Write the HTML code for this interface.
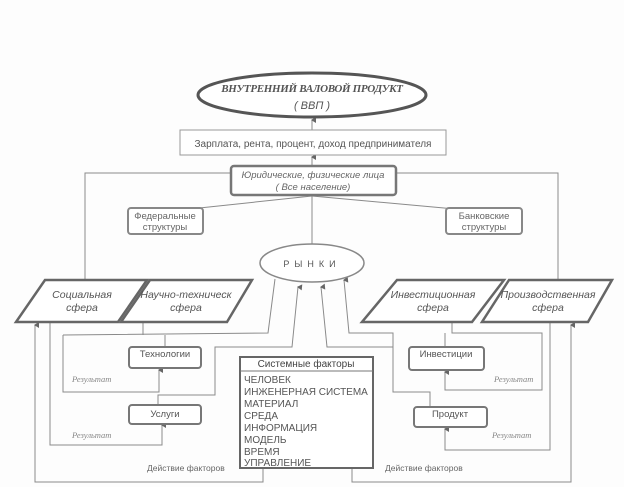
<!DOCTYPE html>
<html><head><meta charset="utf-8"><style>
html,body{margin:0;padding:0;background:#fff;}
svg{display:block;font-family:"Liberation Sans",sans-serif;}
</style></head><body>
<svg width="624" height="487" viewBox="0 0 624 487" xmlns="http://www.w3.org/2000/svg">
<defs>
<marker id="a" markerWidth="6" markerHeight="6" refX="3" refY="1" orient="auto" markerUnits="userSpaceOnUse">
<path d="M0,5 L3,0 L6,5 Z" fill="#666"/></marker>
</defs>
<rect width="624" height="487" fill="#fdfdfd"/>
<g fill="none" stroke="#8a8a8a" stroke-width="1">
<line x1="312" y1="130" x2="312" y2="120" marker-end="url(#a)"/>
<line x1="312" y1="166" x2="312" y2="157" marker-end="url(#a)"/>
<polyline points="231,173 85,173 85,280"/>
<polyline points="396,173 558,173 558,280"/>
<line x1="312" y1="196" x2="190" y2="209"/>
<line x1="312" y1="196" x2="455" y2="209"/>
<line x1="312" y1="196" x2="312" y2="245"/>
<polyline points="143,323 143,335"/>
<polyline points="63,335 268,333 275,279"/>
<polyline points="165,335 165,346"/>
<polyline points="63,335 63,392 159,392 159,370" marker-end="url(#a)"/>
<polyline points="50,323 50,445 162,445 162,425" marker-end="url(#a)"/>
<polyline points="158,405 158,395 215,395 215,347 292,347 298,287" marker-end="url(#a)"/>
<polyline points="263,468 263,482 35,482 35,325" marker-end="url(#a)"/>
<polyline points="393,347 327,347 321,287" marker-end="url(#a)"/>
<polyline points="430,407 430,392 393,392 393,333 349,333 344,280" marker-end="url(#a)"/>
<polyline points="452,322 452,333 542,333 542,390 445,390 445,372" marker-end="url(#a)"/>
<line x1="445" y1="333" x2="445" y2="347"/>
<polyline points="550,322 550,450 445,450 445,429" marker-end="url(#a)"/>
<polyline points="352,468 352,482 571,482 571,325" marker-end="url(#a)"/>
</g>
<ellipse cx="312" cy="95" rx="114" ry="22" fill="#fff" stroke="#555" stroke-width="3"/>
<text x="312" y="92" text-anchor="middle" font-family="Liberation Serif,serif" font-style="italic" font-weight="bold" font-size="11" letter-spacing="-0.3" fill="#555">ВНУТРЕННИЙ ВАЛОВОЙ ПРОДУКТ</text>
<text x="312" y="109" text-anchor="middle" font-style="italic" font-size="11" fill="#555">( ВВП )</text>
<rect x="180" y="130" width="266" height="25" fill="#fff" stroke="#999"/>
<text x="313" y="147" text-anchor="middle" font-size="10" fill="#555">Зарплата, рента, процент, доход предпринимателя</text>
<rect x="231" y="166" width="165" height="29" rx="3" fill="#fff" stroke="#777" stroke-width="2.5"/>
<text x="313" y="178" text-anchor="middle" font-style="italic" font-size="9.5" fill="#666">Юридические, физические лица</text>
<text x="313" y="190" text-anchor="middle" font-style="italic" font-size="9.5" fill="#666">( Все население)</text>
<rect x="128" y="208" width="75" height="26" rx="3" fill="#fff" stroke="#888" stroke-width="2"/>
<text x="165" y="219" text-anchor="middle" font-size="9.5" fill="#666">Федеральные</text>
<text x="165" y="230" text-anchor="middle" font-size="9.5" fill="#666">структуры</text>
<rect x="446" y="208" width="76" height="26" rx="3" fill="#fff" stroke="#888" stroke-width="2"/>
<text x="484" y="219" text-anchor="middle" font-size="9.5" fill="#666">Банковские</text>
<text x="484" y="230" text-anchor="middle" font-size="9.5" fill="#666">структуры</text>
<ellipse cx="312" cy="263" rx="52" ry="19" fill="#fff" stroke="#888" stroke-width="1.5"/>
<text x="312" y="267" text-anchor="middle" font-size="9" letter-spacing="5" fill="#555">РЫНКИ</text>
<g fill="#fff" stroke="#666" stroke-width="2.5">
<polygon points="45,280 147,280 118,322 16,322"/>
<polygon points="150,280 252,280 227,322 121,322"/>
<polygon points="397,280 504,280 472,322 362,322"/>
<polygon points="509,280 612,280 588,322 482,322"/>
</g>
<g font-style="italic" font-size="10.5" fill="#555" text-anchor="middle">
<text x="82" y="298">Социальная</text><text x="82" y="311">сфера</text>
<text x="186" y="298">Научно-техническ</text><text x="186" y="311">сфера</text>
<text x="433" y="298">Инвестиционная</text><text x="433" y="311">сфера</text>
<text x="548" y="298">Производственная</text><text x="548" y="311">сфера</text>
</g>
<g fill="#fff" stroke="#777" stroke-width="2">
<rect x="129" y="347" width="72" height="21" rx="3"/>
<rect x="129" y="405" width="72" height="19" rx="3"/>
<rect x="409" y="347" width="75" height="23" rx="3"/>
<rect x="414" y="407" width="73" height="20" rx="3"/>
</g>
<g font-size="9.5" fill="#555" text-anchor="middle">
<text x="165" y="357">Технологии</text>
<text x="165" y="417">Услуги</text>
<text x="446" y="357">Инвестиции</text>
<text x="450" y="417">Продукт</text>
</g>
<g font-family="Liberation Serif,serif" font-style="italic" font-size="8.5" fill="#888">
<text x="72" y="382">Результат</text>
<text x="72" y="438">Результат</text>
<text x="494" y="382">Результат</text>
<text x="492" y="438">Результат</text>
</g>
<g font-size="8.5" fill="#666">
<text x="147" y="471">Действие факторов</text>
<text x="385" y="471">Действие факторов</text>
</g>
<rect x="240" y="357" width="133" height="111" fill="#fff" stroke="#666" stroke-width="2"/>
<line x1="240" y1="371" x2="373" y2="371" stroke="#777"/>
<text x="306" y="367" text-anchor="middle" font-size="10" fill="#444">Системные факторы</text>
<g font-size="10" fill="#555">
<text x="244" y="383">ЧЕЛОВЕК</text>
<text x="244" y="395">ИНЖЕНЕРНАЯ СИСТЕМА</text>
<text x="244" y="407">МАТЕРИАЛ</text>
<text x="244" y="419">СРЕДА</text>
<text x="244" y="431">ИНФОРМАЦИЯ</text>
<text x="244" y="443">МОДЕЛЬ</text>
<text x="244" y="455">ВРЕМЯ</text>
<text x="244" y="466">УПРАВЛЕНИЕ</text>
</g>
</svg>
</body></html>
